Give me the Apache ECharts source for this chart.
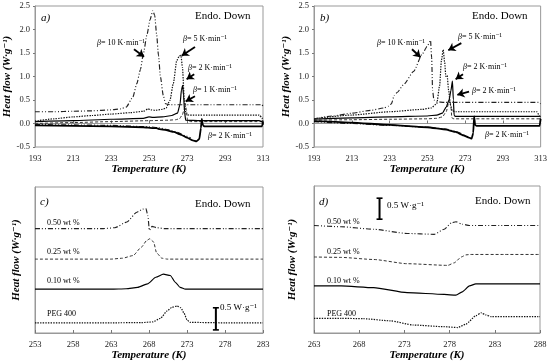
<!DOCTYPE html>
<html><head><meta charset="utf-8">
<script src="https://cdn.jsdelivr.net/npm/echarts@6/dist/echarts.min.js"></script>
<style>html,body{margin:0;padding:0;background:#fff}#c{width:550px;height:363px}</style>
</head><body><div id="c"></div>
<script>
// ---------- Panel a ----------
const a10T = [193,203,213,223,233,238,241,244.5,246.6,248.5,250,252,253.5,255,256,257,258,259,260.5,261.7,264,270,290,312.5,313];
const a10H = [0.25,0.25,0.26,0.27,0.29,0.31,0.35,0.56,0.85,1.15,1.48,1.9,2.2,2.4,2.3,1.9,1.45,1.0,0.6,0.42,0.4,0.4,0.4,0.4,0.36];
const a5T = [193,203,213,223,233,243,250,252.5,254,256,260,262,264,265.8,267.6,269,269.8,270.6,271.6,272.5,274,290,311,312.5,313];
const a5H = [0.05,0.1,0.14,0.17,0.2,0.23,0.26,0.31,0.29,0.28,0.3,0.33,0.49,0.85,1.34,1.44,1.45,1.2,0.49,0.2,0.18,0.18,0.18,0.12,-0.03];
const a2T = [193,213,233,250,253,255,260,265,268,269.3,270.1,270.7,271.2,271.7,272.3,280,311,312.5,313];
const a2H = [0.04,0.06,0.09,0.11,0.14,0.13,0.14,0.17,0.22,0.4,0.72,0.81,0.6,0.25,0.07,0.06,0.06,0.04,-0.03];
const a1T = [193,213,233,253,263,267,269,270.5,271.5,272.2,272.7,273.3,275,290,313];
const a1H = [0.0,0.02,0.04,0.06,0.07,0.08,0.1,0.18,0.3,0.42,0.3,0.06,0.04,0.04,0.04];
const acT = [193,213,233,250,255,257,258.5,262,266,270,273,276,278,279.5,280.3,280.8,281.3,282,290,312.5,313];
const acH = [-0.04,-0.05,-0.06,-0.08,-0.1,-0.1,-0.12,-0.14,-0.18,-0.24,-0.3,-0.36,-0.38,-0.33,-0.1,0.1,-0.03,-0.06,-0.06,-0.06,0.04];
const acdT = [193,213,233,253,258,263,268,272,275];
const acdH = [-0.02,-0.03,-0.04,-0.07,-0.09,-0.13,-0.19,-0.26,-0.31];
const arrowsA = [[245.1,1.58,250.4,1.42],[277.2,1.63,270.2,1.44],[276.8,1.05,272.8,0.94],[277.2,0.58,272.3,0.47]];
// ---------- Panel b ----------
const b10T = [193,203,213,223,230,232.5,234,235.5,237,240.5,245.8,250.2,252.9,254.7,255.3,255.8,256.5,258,262,270,290,312,313];
const b10H = [0.1,0.16,0.22,0.28,0.33,0.37,0.42,0.6,0.66,0.83,1.11,1.47,1.64,1.77,1.4,0.7,0.5,0.46,0.45,0.45,0.45,0.45,0.42];
const b5T = [193,213,233,250,255,258,259.5,260.5,261.4,262.2,262.8,263.5,264.3,265.2,266.2,268,290,311,312.5,313];
const b5H = [0.1,0.18,0.25,0.3,0.33,0.42,0.8,1.35,1.57,1.3,1.0,1.02,0.7,0.4,0.27,0.25,0.25,0.25,0.15,0.0];
const b2T = [193,213,233,253,258,261,263,264.5,265.5,266.3,266.8,267.2,268,290,311,313];
const b2H = [0.09,0.12,0.14,0.16,0.18,0.22,0.35,0.5,0.7,0.9,0.5,0.17,0.15,0.15,0.15,0.15];
const b1T = [193,213,233,253,258,261,263,264.2,264.9,265.5,266,267,290,313];
const b1H = [0.07,0.08,0.09,0.1,0.11,0.14,0.25,0.42,0.5,0.35,0.12,0.1,0.1,0.1];
const bcT = [193,213,233,253,263,268,272,275,276.5,277.3,277.8,278.3,279,290,312.5,313];
const bcH = [0.05,0.02,-0.03,-0.08,-0.13,-0.18,-0.25,-0.3,-0.32,-0.2,0.15,-0.03,-0.05,-0.05,-0.05,0.1];
const bcdT = [193,213,233,253,263,268,272];
const bcdH = [0.04,0.0,-0.04,-0.08,-0.12,-0.17,-0.23];
const arrowsB = [[244.9,1.58,249.4,1.41],[271.0,1.71,264.1,1.56],[271.9,1.05,268.0,0.94],[275.1,0.68,268.9,0.61]];
// ---------- Panel c ----------
const cPegT = [253,258,263,267,268.5,269.5,270.4,271,271.7,272.2,272.6,273,273.4,278,283];
const cPegH = [0.23,0.23,0.23,0.235,0.25,0.33,0.5,0.58,0.61,0.57,0.45,0.3,0.24,0.23,0.23];
const c10T = [253,258,263,265,266.5,267.8,268.9,269.9,270.8,271.5,272.1,272.8,278,283];
const c10H = [0.99,0.99,0.99,1.0,1.03,1.11,1.26,1.33,1.3,1.14,1.03,0.99,0.99,0.99];
const c25T = [253,258,263,264.5,265.9,267,267.7,268.1,268.6,269,269.7,270.4,278,283];
const c25H = [1.67,1.67,1.67,1.69,1.75,1.94,2.09,2.13,2.06,1.81,1.69,1.67,1.67,1.67];
const c50T = [253,258,262,263.5,265.1,266.4,267.2,267.6,267.85,268.05,268.4,269,270,278,283];
const c50H = [2.36,2.36,2.36,2.38,2.51,2.73,2.8,2.81,2.65,2.32,2.41,2.38,2.36,2.36,2.36];
const cBarT = [276.8,276.8];
const cBarH = [0.07,0.57];
// ---------- Panel d ----------
const d50T = [263,266,269.6,273.3,276.3,277.4,278.2,278.7,279.4,280.2,284,288];
const d50H = [2.56,2.53,2.47,2.37,2.35,2.47,2.62,2.65,2.59,2.56,2.56,2.56];
const d25T = [263,266,269.6,273.3,277.8,278.5,279.3,279.8,280.3,284,288];
const d25H = [1.81,1.8,1.75,1.65,1.61,1.67,1.81,1.86,1.87,1.87,1.87];
const d10T = [263,266,269.6,273.3,277.4,278.7,279.4,280.2,280.9,281.5,288];
const d10H = [1.12,1.12,1.08,0.96,0.92,0.9,0.98,1.12,1.17,1.17,1.17];
const dPegT = [263,266,268.5,271.4,274,277.4,278.9,279.8,280.9,281.5,282,282.6,288];
const dPegH = [0.35,0.35,0.34,0.29,0.19,0.15,0.13,0.21,0.41,0.48,0.43,0.39,0.39];
const dBarT = [270.25,270.25];
const dBarH = [2.71,3.21];
// ---------- axes ----------
const xMin = [193,193,253,263], xMax = [313,313,283,288], xStep = [20,20,5,5];

const F = "'Liberation Serif','DejaVu Serif',serif";
const pts = (T,H) => T.map((t,i)=>[t,H[i]]);
const ST = {
  dd: {color:'#222', width:1.15, type:[5,2,1,2,1,2]},
  dot: {color:'#111', width:1.2, type:[1.4,1.2]},
  sol: {color:'#000', width:1.2, type:'solid'},
  dash: {color:'#333', width:1, type:[3,2]},
  bold: {color:'#000', width:1.8, type:'solid'}
};
function ln(i,T,H,st,extra){
  return Object.assign({type:'line', xAxisIndex:i, yAxisIndex:i, data:pts(T,H), symbol:'none', showSymbol:false,
    smooth:0.2, smoothMonotone:'x', lineStyle:ST[st], silent:true, animation:false}, extra||{});
}
function arrows(list){
  return {symbol:['none','arrow'], symbolSize:7, silent:true, animation:false, label:{show:false},
    lineStyle:{color:'#000', width:1.8, type:'solid'}, itemStyle:{color:'#000'},
    data:list.map(a=>[{coord:[a[0],a[1]]},{coord:[a[2],a[3]]}])};
}
function bar(i,T,H){
  return {type:'line', xAxisIndex:i, yAxisIndex:i, data:pts(T,H), symbol:'rect', symbolSize:[6,1.6], showSymbol:true,
    itemStyle:{color:'#000'}, lineStyle:{color:'#000', width:2}, silent:true, animation:false};
}
const grids = [
  {left:35, top:6, width:228, height:141},
  {left:314, top:6, width:227, height:141},
  {left:35, top:187, width:228, height:146},
  {left:314, top:186, width:226, height:147}
].map(g=>Object.assign(g,{show:true, borderColor:'#999', borderWidth:1, backgroundColor:'transparent'}));
const xAxes = [0,1,2,3].map(i=>({gridIndex:i, type:'value', min:xMin[i], max:xMax[i], interval:xStep[i],
  name:'Temperature (K)', nameLocation:'middle', nameGap: i<2?15:14,
  nameTextStyle:{fontFamily:F, fontSize:11, fontWeight:'bold', fontStyle:'italic', color:'#000'},
  axisLine:{lineStyle:{color:'#999'}}, axisTick:{inside:true, length:3, lineStyle:{color:'#777'}},
  axisLabel:{fontFamily:F, fontSize:8.5, color:'#222', margin:7}, splitLine:{show:false}}));
const yAxes = [0,1,2,3].map(i=>i<2 ? ({gridIndex:i, type:'value', min:-0.5, max:2.5, interval:0.5,
  name:'Heat flow (W·g⁻¹)', nameLocation:'middle', nameGap:20,
  nameTextStyle:{fontFamily:F, fontSize:11, fontWeight:'bold', fontStyle:'italic', color:'#000'},
  axisLine:{show:true, lineStyle:{color:'#999'}}, axisTick:{show:true, length:2, lineStyle:{color:'#777'}},
  axisLabel:{fontFamily:F, fontSize:8.5, color:'#222', margin:5, formatter:v=>v.toFixed(1)}, splitLine:{show:false}})
  : ({gridIndex:i, type:'value', min:0, max: i===2?3.3:3.5,
  name:'Heat flow (W·g⁻¹)', nameLocation:'middle', nameGap: i===2?13:16,
  nameTextStyle:{fontFamily:F, fontSize:11, fontWeight:'bold', fontStyle:'italic', color:'#000'},
  axisLine:{show:true, lineStyle:{color:'#999'}}, axisTick:{show:false}, axisLabel:{show:false}, splitLine:{show:false}}));

const series = [
  ln(0,acdT,acdH,'dd'), ln(0,a1T,a1H,'dash'), ln(0,a2T,a2H,'sol'), ln(0,a5T,a5H,'dot'),
  ln(0,a10T,a10H,'dd',{markLine:arrows(arrowsA)}), ln(0,acT,acH,'bold',{smooth:0.1}),
  ln(1,bcdT,bcdH,'dd'), ln(1,b1T,b1H,'dash'), ln(1,b2T,b2H,'sol'), ln(1,b5T,b5H,'dot'),
  ln(1,b10T,b10H,'dd',{markLine:arrows(arrowsB)}), ln(1,bcT,bcH,'bold',{smooth:0.1}),
  ln(2,cPegT,cPegH,'dot'), ln(2,c10T,c10H,'sol'), ln(2,c25T,c25H,'dash'), ln(2,c50T,c50H,'dd'), bar(2,cBarT,cBarH),
  ln(3,dPegT,dPegH,'dot'), ln(3,d10T,d10H,'sol'), ln(3,d25T,d25H,'dash'), ln(3,d50T,d50H,'dd'), bar(3,dBarT,dBarH)
];

function txt(s,x,y,size,opt){
  return {type:'text', silent:true, z:100, style:Object.assign({text:s, x:x, y:y, fill:'#000',
    font:(opt&&opt.font)||(size+'px '+F), verticalAlign:'middle', align:'left'}, opt&&opt.style||{})};
}
function beta(s,x,y){
  return {type:'text', silent:true, z:100, style:{text:'{i|β}= '+s, x:x, y:y, fill:'#000', verticalAlign:'middle',
    font:'8px '+F, rich:{i:{fontStyle:'italic', fontFamily:F, fontSize:8}}}};
}
const graphic = [
  txt('a)',41,18,11,{font:'italic 11px '+F}), txt('Endo. Down',195,16,11),
  beta('10 K·min⁻¹',97,43), beta('5 K·min⁻¹',183,39), beta('2 K·min⁻¹',188,68), beta('1 K·min⁻¹',193,90), beta('2 K·min⁻¹',208,136),
  txt('b)',320,18,11,{font:'italic 11px '+F}), txt('Endo. Down',472,16,11),
  beta('10 K·min⁻¹',377,43), beta('5 K·min⁻¹',458,37), beta('2 K·min⁻¹',463,67), beta('2 K·min⁻¹',472,91), beta('2 K·min⁻¹',485,135),
  txt('c)',40,202,11,{font:'italic 11px '+F}), txt('Endo. Down',195,204,11),
  txt('0.50 wt %',47,223,8), txt('0.25 wt %',47,252,8), txt('0.10 wt %',47,281,8), txt('PEG 400',47,314,8), txt('0.5 W·g⁻¹',220,308,9),
  txt('d)',319,202,11,{font:'italic 11px '+F}), txt('Endo. Down',475,201,11),
  txt('0.50 wt %',327,222,8), txt('0.25 wt %',327,252,8), txt('0.10 wt %',327,281,8), txt('PEG 400',327,314,8), txt('0.5 W·g⁻¹',387,206,9)
];

const chart = echarts.init(document.getElementById('c'), null, {renderer:'canvas'});
chart.setOption({animation:false, backgroundColor:'#fff', grid:grids, xAxis:xAxes, yAxis:yAxes, series:series, graphic:graphic});
</script></body></html>
